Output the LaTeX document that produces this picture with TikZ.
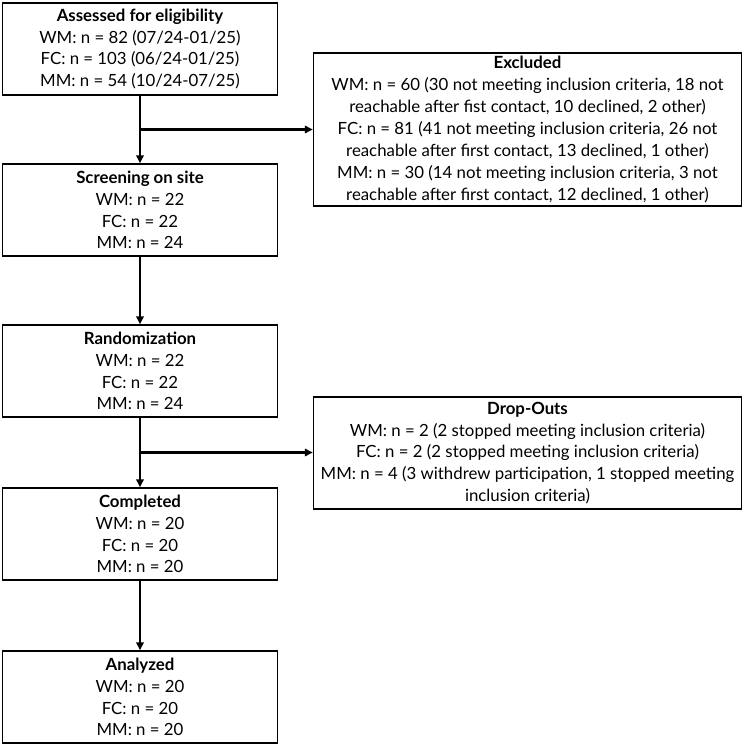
\documentclass[tikz,border=0pt]{standalone}
\usepackage{fontspec}
\setmainfont{Lato}
\usetikzlibrary{arrows.meta, calc, positioning}

\begin{document}
\begin{tikzpicture}[x=0.75pt, y=-0.75pt,
    box/.style={draw, line width=1pt, align=center, inner sep=0pt,
        font=\fontsize{12.6}{16.4}\selectfont},
    stage/.style={box, minimum width=206pt, minimum height=69pt},
    side/.style={box, minimum width=321pt},
    flow/.style={line width=1.7pt, -{Triangle[length=6pt, width=5.5pt]}}]
    % Fix the page size
    \useasboundingbox (0,0) rectangle (744,745);

    % Main column of the flow chart
    \node[stage] (assess) at (140,49) {\textbf{Assessed for eligibility}\\
        WM: n = 82 (07/24-01/25)\\FC: n = 103 (06/24-01/25)\\MM: n = 54 (10/24-07/25)};
    \node[stage] (screen) at (140,210) {\textbf{Screening on site}\\
        WM: n = 22\\FC: n = 22\\MM: n = 24};
    \node[stage] (random) at (140,371) {\textbf{Randomization}\\
        WM: n = 22\\FC: n = 22\\MM: n = 24};
    \node[stage] (complete) at (140,534) {\textbf{Completed}\\
        WM: n = 20\\FC: n = 20\\MM: n = 20};
    \node[stage] (analyze) at (140,697) {\textbf{Analyzed}\\
        WM: n = 20\\FC: n = 20\\MM: n = 20};

    % Boxes on the right side
    \node[side, minimum height=114.75pt] (excl) at (527.5,129.5) {\textbf{Excluded}\\
        WM: n = 60 (30 not meeting inclusion criteria, 18 not\\
        reachable after fist contact, 10 declined, 2 other)\\
        FC: n = 81 (41 not meeting inclusion criteria, 26 not\\
        reachable after first contact, 13 declined, 1 other)\\
        MM: n = 30 (14 not meeting inclusion criteria, 3 not\\
        reachable after first contact, 12 declined, 1 other)};
    \node[side, minimum height=84pt] (drop) at (527.5,453) {\textbf{Drop-Outs}\\
        WM: n = 2 (2 stopped meeting inclusion criteria)\\
        FC: n = 2 (2 stopped meeting inclusion criteria)\\
        MM: n = 4 (3 withdrew participation, 1 stopped meeting\\
        inclusion criteria)};

    % Split points on the vertical arrows
    \coordinate (split1) at ($(assess.south)!0.5!(screen.north)$);
    \coordinate (split2) at ($(random.south)!0.5!(complete.north)$);

    % Arrows
    \draw[flow] (assess) -- (screen);
    \draw[flow] (screen) -- (random);
    \draw[flow] (random) -- (complete);
    \draw[flow] (complete) -- (analyze);
    \draw[flow] (split1) -- (split1 -| excl.west);
    \draw[flow] (split2) -- (split2 -| drop.west);
\end{tikzpicture}
\end{document}
